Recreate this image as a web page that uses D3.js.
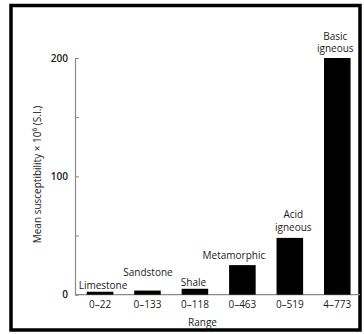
<!DOCTYPE html>
<html><head><meta charset="utf-8">
<script src="https://cdn.jsdelivr.net/npm/d3@7"></script>
<style>
html,body{margin:0;padding:0;background:#fff;}
svg text{font-family:"Open Sans",sans-serif;fill:#1a1a1a;}
</style></head>
<body>
<svg id="c" width="364" height="334"></svg>
<script>
// Data
const categories = ["Limestone","Sandstone","Shale","Metamorphic","Acid igneous","Basic igneous"];
const labelLines = [["Limestone"],["Sandstone"],["Shale"],["Metamorphic"],["Acid","igneous"],["Basic","igneous"]];
const ranges = ["0\u201322","0\u2013133","0\u2013118","0\u2013463","0\u2013519","4\u2013773"];
const meanValues = [2.5, 3.5, 5, 25, 48, 200];
const yTicks = [0, 50, 100, 150, 200];
const yTickLabels = ["0","","100","","200"];

// Layout / style (not data)
const labelDx = [3, 0.5, -1.5, -8.5, 3.5, -2];
const labelGap = [3, 15, 2.5, 6, 7, 6];

const svg = d3.select("#c");
svg.append("rect").attr("x",11).attr("y",5.5).attr("width",349).attr("height",324.5)
  .attr("fill","none").attr("stroke","#000").attr("stroke-width",3.5);

const axisColor = "#8a8a8a";
const x0 = 75, xEnd = 360;
const x = d3.scaleBand().domain(categories).range([76.3, 361]).paddingInner(0.44).paddingOuter(0.22);
const y = d3.scaleLinear().domain([0,200]).range([294.7, 58]);

// Y axis
const yAxis = d3.axisLeft(y).tickValues(yTicks).tickFormat((d,i)=>yTickLabels[i])
  .tickSizeInner(-4).tickSizeOuter(0).tickPadding(7);
const gy = svg.append("g").attr("transform",`translate(${x0},0)`).call(yAxis);
gy.select(".domain").attr("stroke",axisColor).attr("stroke-width",1.2);
gy.selectAll(".tick line").attr("stroke",axisColor);
gy.selectAll(".tick text").style("font-size","10px").style("font-weight","600").attr("fill","#333");

// X axis baseline
svg.append("line").attr("x1",x0).attr("x2",xEnd).attr("y1",y(0)).attr("y2",y(0))
  .attr("stroke",axisColor).attr("stroke-width",1.2);

const xAxis = d3.axisBottom(x).tickFormat((d,i)=>ranges[i]).tickSize(0).tickPadding(6);
const gx = svg.append("g").attr("transform",`translate(0,${y(0)})`).call(xAxis);
gx.select(".domain").remove();
gx.selectAll(".tick text").style("font-size","10px").attr("fill","#1a1a1a");

// Bars
svg.append("g").selectAll("rect").data(categories).join("rect")
  .attr("x",d=>x(d)).attr("width",x.bandwidth())
  .attr("y",(d,i)=>y(meanValues[i])).attr("height",(d,i)=>y(0)-y(meanValues[i]))
  .attr("fill","#000");

// Category labels
const lineH = 12.5;
categories.forEach((c,i)=>{
  const lines = labelLines[i];
  const cx = x(c) + x.bandwidth()/2 + labelDx[i];
  const base = y(meanValues[i]) - labelGap[i];
  const t = svg.append("text").attr("text-anchor","middle").style("font-size","10px");
  lines.forEach((l,j)=>{
    t.append("tspan").attr("x",cx).attr("y", base - (lines.length-1-j)*lineH).text(l);
  });
});

// Axis titles
svg.append("text").attr("x",202.5).attr("y",325.5).attr("text-anchor","middle")
  .style("font-size","10px").text("Range");
svg.append("text").attr("transform",`translate(41,174.5) rotate(-90)`).attr("text-anchor","middle")
  .style("font-size","10px")
  .html('Mean susceptibility \u00d7 10<tspan dy="-4" style="font-size:6.5px">6</tspan><tspan dy="4"> (S.I.)</tspan>');
</script>
</body></html>
